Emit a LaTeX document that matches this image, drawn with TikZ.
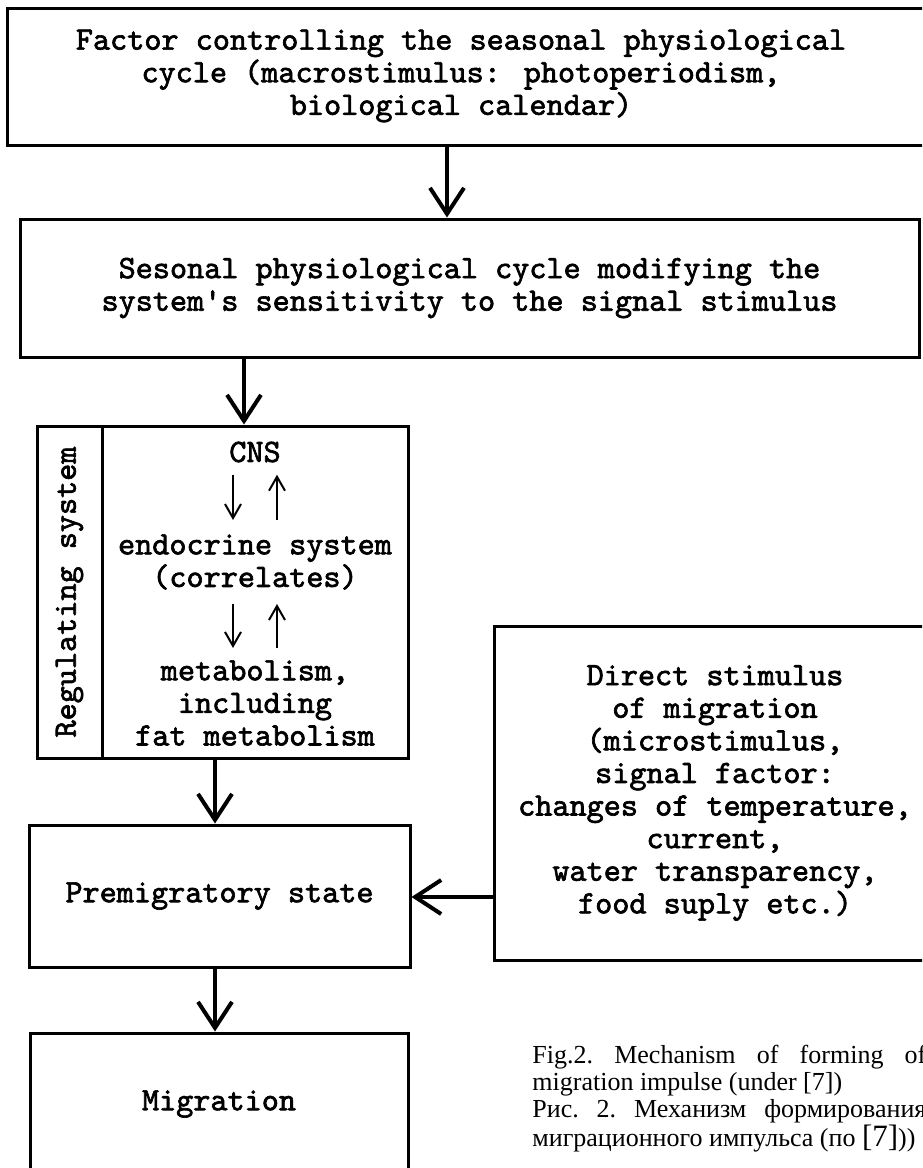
\documentclass[tikz,border=0pt]{standalone}
\usepackage{fontspec}
\setmainfont{Liberation Serif}
\newfontfamily\boxfont{lmmono10-regular}[Extension=.otf, FakeBold=2]
\usetikzlibrary{arrows.meta}
\usetikzlibrary{positioning}

\tikzset{
  box/.style={draw, line width=1.5pt, inner sep=0pt},
  boxtext/.style={font=\boxfont\fontsize{16.3}{16.3}\selectfont, align=center, inner sep=0pt},
  bigarrow/.style={line width=2pt, -{Straight Barb[length=13pt,width=17pt,line width=2pt]}},
  smallarrow/.style={line width=1pt, -{Straight Barb[length=7pt,width=8pt]}},
  figcaption/.style={font=\frenchspacing\fontsize{13}{13.4}\selectfont, align=left, inner sep=0pt},
}

\begin{document}
\begin{tikzpicture}[x=0.5pt, y=-0.5pt]
    \useasboundingbox (0,0) rectangle (922,1168);
    \clip (0,0) rectangle (922,1168);

    % top boxes
    \node [box, minimum width=476.5pt, minimum height=68.5pt] (factor) at (483.5,76.5) {};
    \node [boxtext] (factortxt) at (461,76) {Factor controlling the seasonal physiological\\cycle (macrostimulus: photoperiodism,\\biological calendar)};
    \node [box, boxtext, minimum width=449.5pt, minimum height=69pt] (cycle) at (469.5,288) {Sesonal physiological cycle modifying the\\system's sensitivity to the signal stimulus};

    % regulating system
    \node [box, minimum width=153pt, minimum height=166pt] (regul) at (255,592) {};
    \node [box, boxtext, rotate=90, minimum width=166pt, minimum height=32.5pt] (reglabel) at (69.5,592) {Regulating system};
    \node [boxtext] (cns) at (255,452) {CNS};
    \node [boxtext] (endo) at (255,562) {endocrine system\\(correlates)};
    \node [boxtext] (metab) at (255,703) {metabolism,\\including\\fat metabolism};

    % lower boxes
    \node [box, boxtext, minimum width=190.5pt, minimum height=71pt] (premig) at (219.5,896) {Premigratory state};
    \node [box, boxtext, minimum width=189pt, minimum height=71pt] (migr) at (219,1104) {Migration};
    \node [box, boxtext, minimum width=221pt, minimum height=167pt] (direct) at (715,793) {Direct stimulus\\of migration\\(microstimulus,\\signal factor:\\changes of temperature,\\current,\\water transparency,\\food suply etc.)};

    % arrows
    \coordinate (c1) at (447,0);
    \coordinate (c2) at (244,0);
    \coordinate (c3) at (215,0);
    \coordinate (c4) at (0,897);
    \coordinate (dn) at (233,0);
    \coordinate (up) at (277,0);
    \draw [bigarrow] (factor.south -| c1) -- (cycle.north -| c1);
    \draw [bigarrow] (cycle.south -| c2) -- (regul.north -| c2);
    \draw [bigarrow] (regul.south -| c3) -- (premig.north -| c3);
    \draw [bigarrow] (premig.south -| c3) -- (migr.north -| c3);
    \draw [bigarrow] (direct.west |- c4) -- (premig.east |- c4);

    \draw [smallarrow, shorten <=6pt, shorten >=7pt] (cns.south -| dn) -- (endo.north -| dn);
    \draw [smallarrow, shorten <=7pt, shorten >=6pt] (endo.north -| up) -- (cns.south -| up);
    \draw [smallarrow, shorten <=7pt, shorten >=6pt] (endo.south -| dn) -- (metab.north -| dn);
    \draw [smallarrow, shorten <=6pt, shorten >=7pt] (metab.north -| up) -- (endo.south -| up);

    % caption
    \node [figcaption, anchor=north west] (caption) at (532,1045) {\makebox[197pt][s]{Fig.2. Mechanism of forming of}\\migration impulse (under [7])\\\makebox[197pt][s]{Рис. 2. Механизм формирования}\\миграционного импульса (по {\fontsize{15.5}{13.4}\selectfont[7]}))};
  \end{tikzpicture}
\end{document}
